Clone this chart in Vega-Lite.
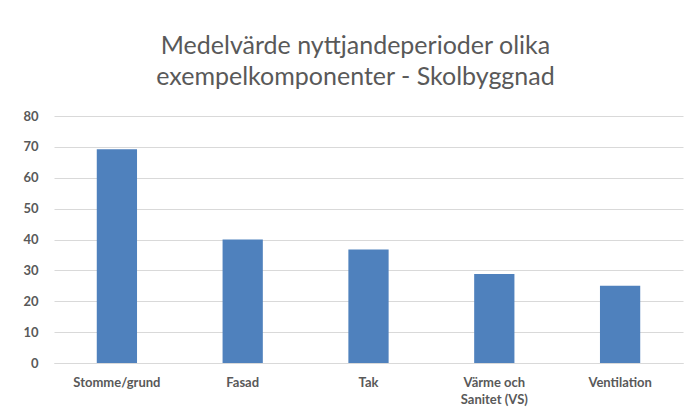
{
  "$schema": "https://vega.github.io/schema/vega-lite/v6.json",
  "width": 629,
  "height": 247,
  "autosize": {"type": "none"},
  "padding": {"left": 54, "top": 116, "right": 7, "bottom": 56},
  "background": "white",
  "title": {
    "text": ["Medelvärde nyttjandeperioder olika", "exempelkomponenter - Skolbyggnad"],
    "font": "Lato",
    "fontSize": 25,
    "fontWeight": "normal",
    "color": "#595959",
    "lineHeight": 31,
    "anchor": "middle",
    "dx": -13,
    "offset": 20
  },
  "data": {
    "values": [
      {"komponent": "Stomme/grund", "varde": 69.2},
      {"komponent": "Fasad", "varde": 40},
      {"komponent": "Tak", "varde": 36.8},
      {"komponent": "Värme och Sanitet (VS)", "varde": 28.8},
      {"komponent": "Ventilation", "varde": 25}
    ]
  },
  "mark": {"type": "bar", "color": "#4F81BD"},
  "encoding": {
    "x": {
      "field": "komponent",
      "type": "nominal",
      "sort": null,
      "title": null,
      "scale": {"paddingInner": 0.68, "paddingOuter": 0.34},
      "axis": {
        "labelAngle": 0,
        "labelExpr": "datum.label == 'Värme och Sanitet (VS)' ? ['Värme och', 'Sanitet (VS)'] : datum.label",
        "labelFont": "Lato",
        "labelFontSize": 13,
        "labelFontWeight": "bold",
        "labelColor": "#595959",
        "labelLineHeight": 17,
        "labelPadding": 13,
        "ticks": false,
        "domain": true,
        "domainColor": "#d9d9d9",
        "domainWidth": 1
      }
    },
    "y": {
      "field": "varde",
      "type": "quantitative",
      "title": null,
      "scale": {"domain": [0, 80]},
      "axis": {
        "values": [0, 10, 20, 30, 40, 50, 60, 70, 80],
        "labelFont": "Lato",
        "labelFontSize": 13,
        "labelFontWeight": "bold",
        "labelColor": "#595959",
        "labelPadding": 16,
        "ticks": false,
        "domain": false,
        "gridColor": "#d9d9d9",
        "gridWidth": 1
      }
    }
  },
  "config": {
    "view": {"stroke": null}
  }
}
